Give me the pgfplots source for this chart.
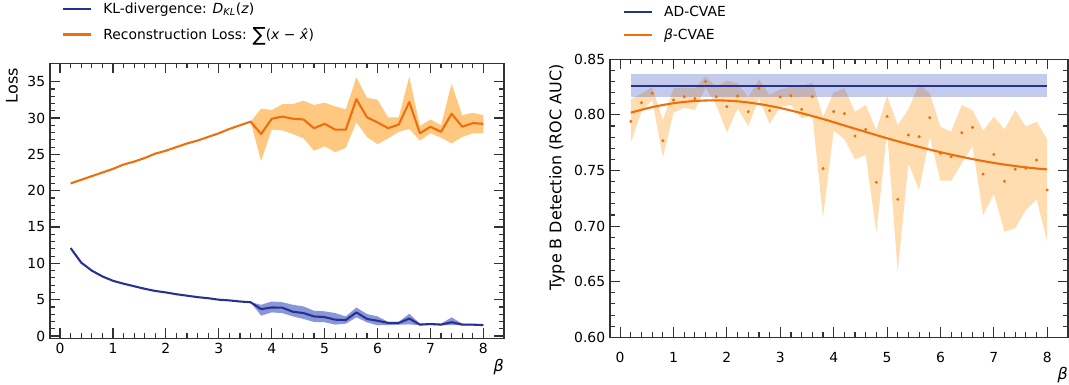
\documentclass[border=0pt]{standalone}
\usepackage{fontspec}
\setmainfont{DejaVu Sans}
\usepackage{pgfplots}
\usepackage{pgfplotstable}
\usepgfplotslibrary{fillbetween}
\pgfplotsset{compat=1.18}
\definecolor{cblue}{RGB}{38,50,145}
\definecolor{corange}{RGB}{240,110,10}
\definecolor{bandorange}{RGB}{255,170,60}
\definecolor{bandblue}{RGB}{60,80,190}
\definecolor{spine}{RGB}{50,50,50}

\pgfplotstableread{
x kl kllo klhi rec reclo rechi
0.2 12.1 12.1 12.1 21.0 21.0 21.0
0.4 10.1 10.1 10.1 21.5 21.5 21.5
0.6 9.0 9.0 9.0 22.0 22.0 22.0
0.8 8.2 8.2 8.2 22.5 22.5 22.5
1.0 7.6 7.6 7.6 23.0 23.0 23.0
1.2 7.2 7.2 7.2 23.6 23.6 23.6
1.4 6.85 6.85 6.85 24.0 24.0 24.0
1.6 6.5 6.5 6.5 24.5 24.5 24.5
1.8 6.2 6.2 6.2 25.1 25.1 25.1
2.0 6.0 6.0 6.0 25.5 25.5 25.5
2.2 5.75 5.75 5.75 26.0 26.0 26.0
2.4 5.55 5.55 5.55 26.5 26.5 26.5
2.6 5.35 5.35 5.35 26.9 26.9 26.9
2.8 5.2 5.2 5.2 27.4 27.4 27.4
3.0 5.0 5.0 5.0 27.9 27.9 27.9
3.2 4.9 4.9 4.9 28.5 28.5 28.5
3.4 4.75 4.75 4.75 29.0 29.0 29.0
3.6 4.65 4.65 4.65 29.5 29.5 29.5
3.8 3.7 2.8 4.3 27.8 24.1 31.3
4.0 3.93 3.25 4.75 29.9 28.4 31.1
4.2 3.9 3.16 4.65 30.2 28.3 31.9
4.4 3.34 2.7 4.3 29.9 27.8 31.9
4.6 3.16 2.35 4.07 29.8 27.2 32.4
4.8 2.7 1.94 3.48 28.6 25.5 31.8
5.0 2.6 1.9 3.4 29.2 26.1 32.1
5.2 2.25 1.57 3.16 28.4 25.3 31.6
5.4 2.2 1.7 2.7 28.4 25.9 31.2
5.6 3.25 2.57 3.93 32.6 29.4 35.6
5.8 2.35 1.88 3.03 30.1 27.4 32.8
6.0 2.1 1.48 2.7 29.4 26.4 32.5
6.2 1.8 1.5 1.95 28.6 27.2 30.1
6.4 1.8 1.55 1.95 29.1 28.1 30.1
6.6 2.4 1.6 3.07 32.2 28.5 35.7
6.8 1.57 1.48 1.7 27.9 26.9 28.9
7.0 1.65 1.5 1.75 28.8 27.9 29.8
7.2 1.57 1.48 1.7 28.1 27.3 29.0
7.4 1.9 1.5 2.57 30.6 26.5 34.7
7.6 1.57 1.48 1.7 28.8 27.4 30.4
7.8 1.57 1.45 1.65 29.3 27.9 30.7
8.0 1.5 1.4 1.6 29.2 27.9 30.4
}\lossdata

\pgfplotstableread{
x auc lo hi
0.2 0.7942 0.7750 0.8140
0.4 0.8110 0.8029 0.8194
0.6 0.8194 0.8134 0.8248
0.8 0.7768 0.7619 0.7954
1.0 0.8134 0.8020 0.8239
1.2 0.8164 0.8065 0.8245
1.4 0.8146 0.8044 0.8239
1.6 0.8299 0.8248 0.8344
1.8 0.8164 0.8089 0.8254
2.0 0.8074 0.7840 0.8308
2.2 0.8170 0.8059 0.8284
2.4 0.8029 0.7900 0.8158
2.6 0.8239 0.8149 0.8320
2.8 0.8038 0.7918 0.8179
3.0 0.8161 0.8074 0.8230
3.2 0.8173 0.8089 0.8254
3.4 0.8050 0.7969 0.8260
3.6 0.8164 0.7999 0.8290
3.8 0.7518 0.7079 0.7984
4.0 0.8030 0.7858 0.8200
4.2 0.8012 0.7781 0.8239
4.4 0.7810 0.7601 0.8029
4.6 0.7870 0.7639 0.8089
4.8 0.7394 0.6941 0.7864
5.0 0.7987 0.7849 0.8170
5.2 0.7241 0.6590 0.7909
5.4 0.7819 0.7565 0.8050
5.6 0.7804 0.7325 0.8278
5.8 0.7975 0.7804 0.8194
6.0 0.7655 0.7408 0.7894
6.2 0.7624 0.7408 0.7849
6.4 0.7840 0.7565 0.8089
6.6 0.7888 0.7720 0.8044
6.8 0.7468 0.7100 0.7858
7.0 0.7645 0.7289 0.7984
7.2 0.7403 0.6950 0.7870
7.4 0.7511 0.6980 0.8044
7.6 0.7520 0.7145 0.7894
7.8 0.7594 0.7241 0.7939
8.0 0.7325 0.6860 0.7781
}\aucdata

\pgfplotstableread{
x fit
0.2 0.8020
0.6 0.8070
1.0 0.8105
1.4 0.8125
1.8 0.8131
2.2 0.8122
2.6 0.8098
3.0 0.8062
3.4 0.8015
3.8 0.7963
4.2 0.7905
4.6 0.7847
5.0 0.7790
5.4 0.7737
5.8 0.7688
6.2 0.7643
6.6 0.7603
7.0 0.7568
7.4 0.7540
7.8 0.7518
8.0 0.7510
}\fitdata

\pgfplotsset{
  myaxis/.style={
    scale only axis,
    font=\fontsize{10}{12}\selectfont,
    tick align=inside,
    tick pos=both,
    axis line style={spine, line width=0.8pt},
    tick style={spine, line width=0.8pt},
    major tick length=7.2pt,
    minor tick length=3.6pt,
    minor x tick num=4,
    minor y tick num=4,
    xmin=-0.19, xmax=8.39,
    xtick={0,1,2,3,4,5,6,7,8},
    /pgf/number format/assume math mode=true,
    xlabel={\textit{β}},
    xlabel style={at={(ticklabel cs:1)}, anchor=north east, inner sep=0pt, font=\fontsize{11.5}{13}\selectfont},
    ylabel style={at={(ticklabel cs:1)}, anchor=south east, font=\fontsize{11.5}{13}\selectfont},
    legend cell align=left,
    legend style={draw=none, fill=none, inner sep=0pt, font=\fontsize{10}{12}\selectfont,
      /tikz/every odd column/.append style={column sep=6pt}},
    legend image code/.code={\draw[#1] (0pt,0pt) -- (20pt,0pt);},
    every axis plot/.append style={line join=round},
  }
}

\begin{document}
\begin{tikzpicture}
\begin{axis}[myaxis,
  at={(36pt,33.48pt)}, anchor=south west,
  width=326.88pt, height=198.14pt,
  ymin=-0.34, ymax=37.53,
  ytick={0,5,10,15,20,25,30,35},
  ylabel={Loss},
  legend style={at={(axis description cs:0.0265,1.149)}, anchor=west, row sep=4.5pt},
]
\addplot[name path=recup, draw=none, forget plot] table[x=x,y=rechi]{\lossdata};
\addplot[name path=reclo, draw=none, forget plot] table[x=x,y=reclo]{\lossdata};
\addplot[fill=bandorange, fill opacity=0.65, draw=none, forget plot] fill between[of=recup and reclo];
\addplot[name path=klup, draw=none, forget plot] table[x=x,y=klhi]{\lossdata};
\addplot[name path=kllo, draw=none, forget plot] table[x=x,y=kllo]{\lossdata};
\addplot[fill=bandblue, fill opacity=0.6, draw=none, forget plot] fill between[of=klup and kllo];
\addplot[cblue, line width=1.5pt] table[x=x,y=kl]{\lossdata};
\addlegendentry{KL-divergence: \textit{D}\textsubscript{\textit{KL}}(\textit{z})}
\addplot[corange, line width=1.5pt] table[x=x,y=rec]{\lossdata};
\addlegendentry{Reconstruction Loss: \raisebox{-0.12em}{\fontsize{14}{14}\selectfont ∑}(\textit{x} − \textit{x̂})}
\end{axis}

\begin{axis}[myaxis,
  at={(439.2pt,34.34pt)}, anchor=south west,
  width=329.76pt, height=200.16pt,
  ymin=0.60, ymax=0.85,
  ytick={0.60,0.65,0.70,0.75,0.80,0.85},
  yticklabel style={/pgf/number format/.cd, fixed, fixed zerofill, precision=2},
  xticklabel style={yshift=-7pt},
  ylabel={Type B Detection (ROC AUC)},
  legend style={at={(axis description cs:0.0277,1.128)}, anchor=west, row sep=3.7pt},
]
\addplot[fill=bandblue, fill opacity=0.3, draw=none, forget plot] coordinates {(0.2,0.8158) (8,0.8158) (8,0.8368) (0.2,0.8368)};
\addplot[name path=aucup, draw=none, forget plot] table[x=x,y=hi]{\aucdata};
\addplot[name path=auclo, draw=none, forget plot] table[x=x,y=lo]{\aucdata};
\addplot[fill=bandorange, fill opacity=0.4, draw=none, forget plot] fill between[of=aucup and auclo];
\addplot[cblue, line width=1.6pt] coordinates {(0.2,0.8263) (8,0.8263)};
\addlegendentry{AD-CVAE}
\addplot[corange, line width=1.5pt, smooth] table[x=x,y=fit]{\fitdata};
\addlegendentry{\textit{β}-CVAE}
\addplot[only marks, mark=*, mark size=0.9pt, corange, forget plot] table[x=x,y=auc]{\aucdata};
\end{axis}
\pgfresetboundingbox
\path[use as bounding box] (0,0) rectangle (769.68pt,277.2pt);
\end{tikzpicture}
\end{document}
